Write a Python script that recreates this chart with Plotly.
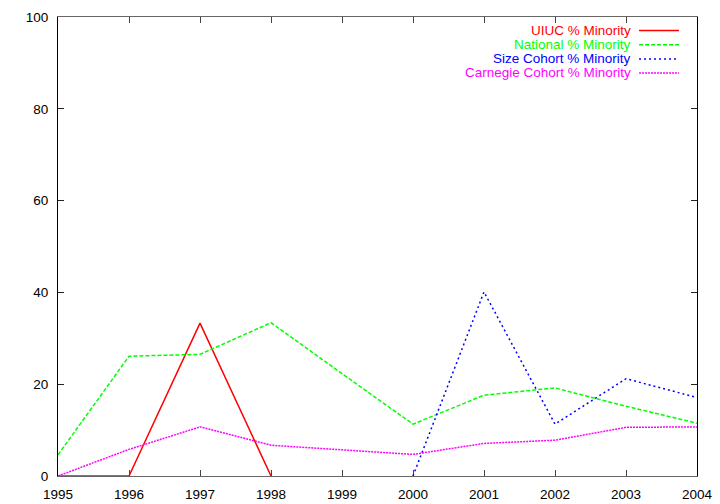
import plotly.graph_objects as go

years = [1995, 1996, 1997, 1998, 1999, 2000, 2001, 2002, 2003, 2004]
uiuc = [0, 0, 33.3, 0, None, None, None, None, None, None]
national = [4.6, 26.1, 26.5, 33.4, 22.3, 11.3, 17.6, 19.2, 15.2, 11.5]
size_cohort = [None, None, None, None, None, 0, 40.1, 11.3, 21.2, 17.1]
carnegie = [0, 5.8, 10.7, 6.7, 5.7, 4.7, 7.1, 7.8, 10.6, 10.7]

names = ["UIUC % Minority", "National % Minority", "Size Cohort % Minority", "Carnegie Cohort % Minority"]
colors = ["#ff0000", "#00ff00", "#0000ff", "#ff00ff"]
dashes = ["solid", "4px,2px", "2px,3px", "2px,1px"]
series = [uiuc, national, size_cohort, carnegie]

FONT = "Liberation Sans, Arial, sans-serif"
L, R, T, B = 57.5, 697, 16.5, 476

fig = go.Figure()
for nm, ys, c, d in zip(names, series, colors, dashes):
    fig.add_trace(go.Scatter(x=years, y=ys, mode="lines", name=nm,
                             line=dict(color=c, width=1.5, dash=d),
                             connectgaps=False, showlegend=False))

# manual gnuplot-style legend (text right-aligned, sample line to its right)
row_y = [30, 44.3, 58.5, 72.5]
for nm, c, d, py in zip(names, colors, dashes, row_y):
    yp = 1 - (py - T) / (B - T)
    fig.add_annotation(xref="paper", yref="paper", x=(631 - L) / (R - L), y=yp,
                       text=nm, showarrow=False, xanchor="right", yanchor="middle",
                       xshift=2, font=dict(color=c, size=13.5, family=FONT))
    fig.add_shape(type="line", xref="paper", yref="paper",
                  x0=(639 - L) / (R - L), x1=(679 - L) / (R - L), y0=yp, y1=yp,
                  line=dict(color=c, width=1.5, dash=d))

axis_common = dict(showgrid=False, zeroline=False, showline=True,
                   linewidth=1, mirror="ticks", ticks="inside", ticklen=6,
                   automargin=False, ticklabelstandoff=6, layer="below traces",
                   tickfont=dict(size=13.5, color="black", family=FONT))

fig.update_xaxes(range=[1995, 2004], tickmode="array", tickvals=years,
                 ticktext=[str(y) for y in years], linecolor="#666666",
                 tickcolor="#444444", **axis_common)
fig.update_yaxes(range=[0, 100], tickmode="array", tickvals=[0, 20, 40, 60, 80, 100],
                 ticktext=["0", "20", "40", "60", "80", "100"], linecolor="black",
                 tickcolor="#222222", **axis_common)

fig.update_layout(width=720, height=504, margin=dict(l=L, r=720 - R, t=T, b=504 - B),
                  plot_bgcolor="white", paper_bgcolor="white")

fig.write_html("out.html", config={"displayModeBar": False},
               post_script="document.body.style.margin='0';document.body.style.overflow='hidden';")
